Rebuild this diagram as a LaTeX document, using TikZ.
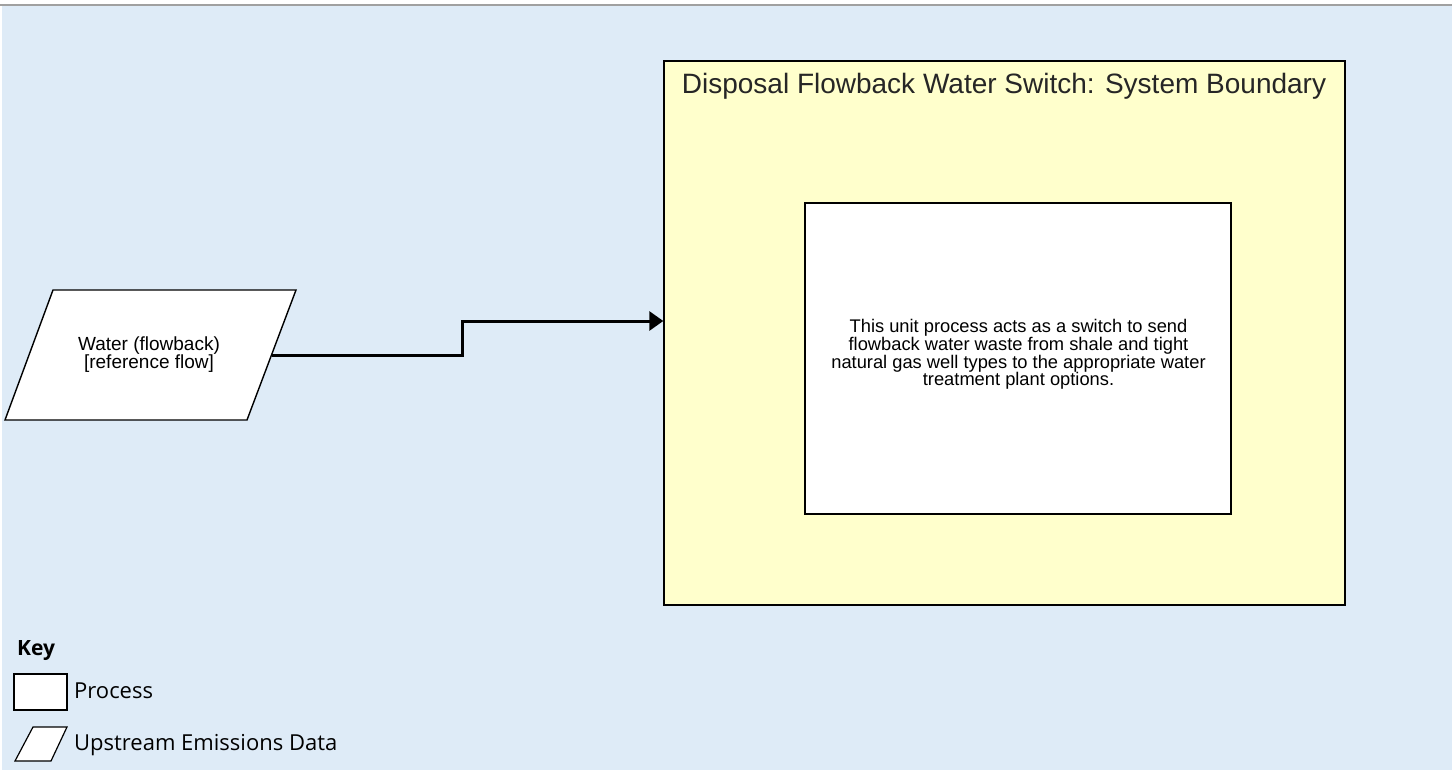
\documentclass[tikz,border=0pt]{standalone}
\usepackage{fontspec}
\setmainfont{Liberation Sans}
\newfontfamily\keyfont{Open Sans}
\usetikzlibrary{arrows.meta}
\definecolor{canvas}{RGB}{222,235,247}
\definecolor{boundaryfill}{RGB}{255,255,204}
\definecolor{rulegray}{RGB}{160,160,160}
\tikzset{
  boundarybox/.style={draw=black, fill=boundaryfill, line width=1.4pt, inner sep=0pt},
  processbox/.style={draw=black, fill=white, line width=1.4pt, inner sep=0pt},
  datashape/.style={draw=black, fill=white, line width=1.4pt, line join=miter},
  bodytext/.style={align=center, inner sep=0pt, font=\fontsize{18.3}{17.6}\selectfont},
  titletext/.style={inner sep=0pt, font=\fontsize{28}{32}\selectfont, text=black!85},
  keytext/.style={inner sep=0pt, anchor=west, font=\keyfont\fontsize{22}{26}\selectfont},
  flow/.style={line width=3pt, -{Triangle[length=14pt,width=19pt]}},
}
\begin{document}
\begin{tikzpicture}[x=1pt,y=-1pt]
\useasboundingbox (0,0) rectangle (1452,770);
% canvas and top rule
\fill[canvas] (2,6) rectangle (1452,770);
\draw[rulegray, line width=2pt] (0,5) -- (1452,5);

% system boundary
\node[boundarybox, minimum width=681pt, minimum height=544pt] (boundary) at (1004.5,333) {};
\node[titletext] (title) at (1004,86) {Disposal Flowback Water Switch: System Boundary};

% unit process
\node[processbox, minimum width=426pt, minimum height=311pt] (process) at (1018,358.5) {};
\node[bodytext] (processtext) at (1018.5,354.5) {This unit process acts as a switch to send\\flowback water waste from shale and tight\\natural gas well types to the appropriate water\\treatment plant options.};

% reference flow input (parallelogram)
\draw[datashape] (53,290) -- (296,290) -- (247,420) -- (5,420) -- cycle;
\node[bodytext, font=\fontsize{19}{18}\selectfont] (water) at (149,355) {Water (flowback)\\{}[reference flow]};
\coordinate (waterout) at (271.5,355);

% connector into the boundary
\coordinate (bend) at (462,321);
\draw[flow] (waterout) -| (bend) -- (boundary.west |- bend);

% key
\node[keytext, font=\keyfont\bfseries\fontsize{21}{25}\selectfont] (keytitle) at (17,651) {Key};
\node[processbox, line width=1.2pt, minimum width=53pt, minimum height=36pt] (keyprocess) at (40.5,692) {};
\node[keytext] (keyprocesslabel) at (74,691) {Process};
\draw[datashape, line width=1.2pt] (33,727) -- (67,727) -- (51,761) -- (15,761) -- cycle;
\coordinate (keydata) at (41,744);
\node[keytext] (keydatalabel) at (74,745) {Upstream Emissions Data};
\end{tikzpicture}
\end{document}
